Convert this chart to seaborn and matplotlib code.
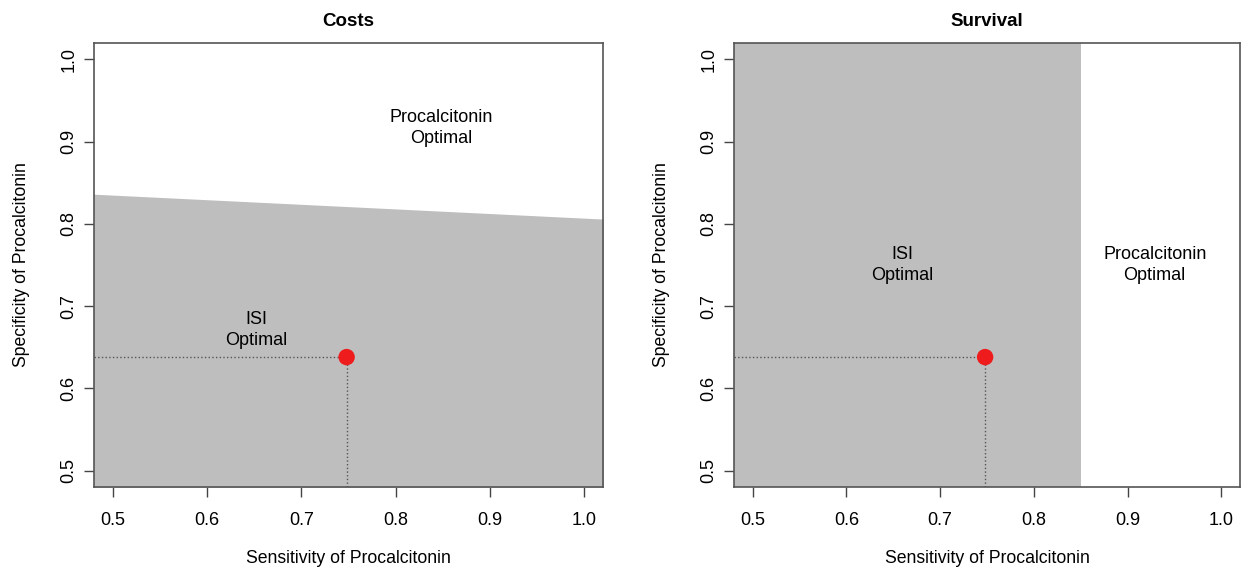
import numpy as np
import pandas as pd
import seaborn as sns
import matplotlib.pyplot as plt

# observed test performance of procalcitonin
point_sens = [0.748]
point_spec = [0.638]

# costs: threshold specificity above which procalcitonin is optimal
cost_sens = [0.40, 1.10]
cost_spec_threshold = [0.8406, 0.8014]

# survival: threshold sensitivity above which procalcitonin is optimal
surv_sens_threshold = 0.85

ticks = [0.5, 0.6, 0.7, 0.8, 0.9, 1.0]
tick_labels = ["0.5", "0.6", "0.7", "0.8", "0.9", "1.0"]

sns.set_theme(style="ticks")
plt.rcParams["font.family"] = ["Liberation Sans", "DejaVu Sans"]
plt.rcParams["text.color"] = "black"
plt.rcParams["axes.labelcolor"] = "black"
plt.rcParams["xtick.color"] = "black"
plt.rcParams["ytick.color"] = "black"

fig = plt.figure(figsize=(12.41, 5.74), dpi=100)
ax1 = fig.add_axes([94 / 1241, 87 / 574, 509 / 1241, 444 / 574])
ax2 = fig.add_axes([734 / 1241, 87 / 574, 506 / 1241, 444 / 574])

grey = "#bebebe"
pt = pd.DataFrame({"sens": point_sens, "spec": point_spec})


def style(ax, title):
    ax.set_xlim(0.48, 1.02)
    ax.set_ylim(0.48, 1.02)
    ax.set_xticks(ticks)
    ax.set_xticklabels(tick_labels)
    ax.set_yticks(ticks)
    ax.set_yticklabels(tick_labels, rotation=90, va="center")
    ax.tick_params(axis="both", labelsize=13, length=7, width=1, color="#444444", pad=5)
    ax.tick_params(axis="x", pad=11)
    for s in ax.spines.values():
        s.set_visible(True)
        s.set_color("#555555")
        s.set_linewidth(1.2)
        s.set_zorder(5)
    ax.set_xlabel("Sensitivity of Procalcitonin", fontsize=12.7, labelpad=15)
    ax.set_ylabel("Specificity of Procalcitonin", fontsize=12.7, labelpad=22)
    ax.set_title(title, fontsize=13.5, fontweight="bold", pad=12)


def mark_point(ax):
    ax.plot([0.48, point_sens[0]], [point_spec[0], point_spec[0]], ls=":", color="#555555", lw=1)
    ax.plot([point_sens[0], point_sens[0]], [0.48, point_spec[0]], ls=":", color="#555555", lw=1)
    sns.scatterplot(data=pt, x="sens", y="spec", ax=ax, color="#ee1c1c", s=140,
                    edgecolor="none", zorder=4)


# Costs panel
ax1.fill_between(cost_sens, 0.4, cost_spec_threshold, color=grey, lw=0, zorder=1)
mark_point(ax1)
ax1.text(0.848, 0.917, "Procalcitonin\nOptimal", ha="center", va="center", fontsize=13, linespacing=1.3)
ax1.text(0.652, 0.671, "ISI\nOptimal", ha="center", va="center", fontsize=13, linespacing=1.3)
style(ax1, "Costs")

# Survival panel
ax2.axvspan(0.4, surv_sens_threshold, color=grey, lw=0, zorder=1)
mark_point(ax2)
ax2.text(0.660, 0.750, "ISI\nOptimal", ha="center", va="center", fontsize=13, linespacing=1.3)
ax2.text(0.929, 0.750, "Procalcitonin\nOptimal", ha="center", va="center", fontsize=13, linespacing=1.3)
style(ax2, "Survival")

fig.savefig("out.png", dpi=100)
